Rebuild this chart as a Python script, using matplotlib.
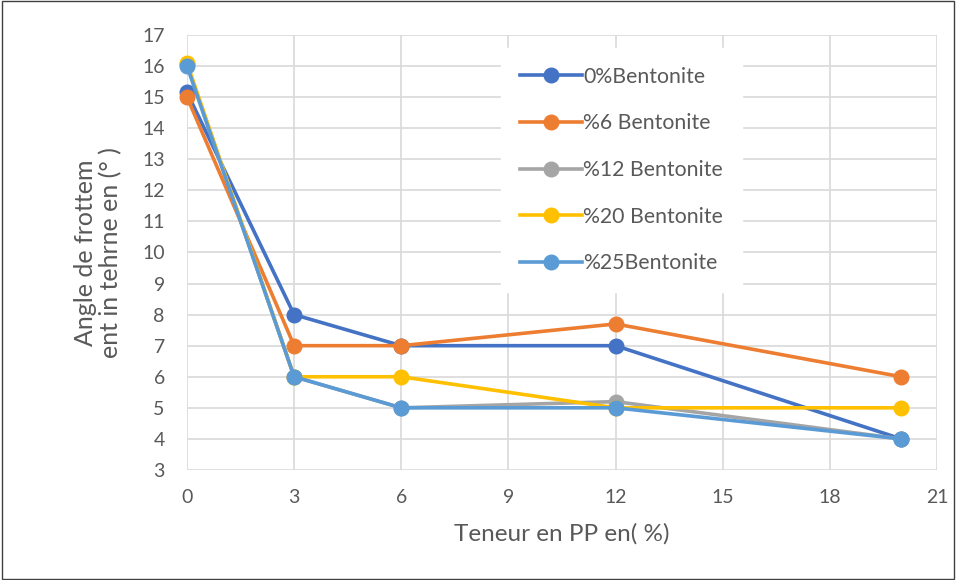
import matplotlib
matplotlib.use("Agg")
import matplotlib.pyplot as plt
from matplotlib.patches import Rectangle

teneur_pp = [0, 3, 6, 12, 20]
bent_0 = [15.15, 8, 7, 7, 4]
bent_6 = [15, 7, 7, 7.7, 6]
bent_12 = [16.05, 6, 5, 5.2, 4]
bent_20 = [16.1, 6, 6, 5, 5]
bent_25 = [16, 6, 5, 5, 4]

series = [
    ("0%Bentonite", bent_0, "#4472C4"),
    ("%6 Bentonite", bent_6, "#ED7D31"),
    ("%12 Bentonite", bent_12, "#A5A5A5"),
    ("%20 Bentonite", bent_20, "#FFC000"),
    ("%25Bentonite", bent_25, "#5B9BD5"),
]

plt.rcParams["font.family"] = ["Lato", "DejaVu Sans"]
txt = "#595959"

fig = plt.figure(figsize=(9.56, 5.8), dpi=100)
ax = fig.add_axes([0.1956, 0.1897, 0.7845, 0.75])

for label, vals, col in series:
    ax.plot(teneur_pp, vals, "-o", color=col, lw=2.6, ms=10.5, label=label,
            clip_on=False, zorder=3)

ax.set_xlim(0, 21)
ax.set_ylim(3, 17)
ax.set_xticks(range(0, 22, 3))
ax.set_yticks(range(3, 18))
ax.grid(True, color="#d9d9d9", lw=1.2, zorder=0)
ax.set_axisbelow(True)
for s in ax.spines.values():
    s.set_visible(False)
ax.tick_params(length=0, labelsize=14, colors=txt)
ax.tick_params(axis="x", pad=14)
ax.tick_params(axis="y", pad=16)

ax.set_xlabel("Teneur en PP en( %)", fontsize=17.5, color=txt, labelpad=12)
ax.set_ylabel("Angle de frottem\nent in tehrne en (° )", fontsize=18, color=txt,
              labelpad=14, linespacing=1.15)

leg = ax.legend(loc="upper left", bbox_to_anchor=(0.405, 0.995), frameon=True,
                fontsize=15.3, labelspacing=1.25, handlelength=2.9,
                handletextpad=0.05, borderpad=0.9, labelcolor=txt)
leg.get_frame().set_facecolor("white")
leg.get_frame().set_edgecolor("white")
leg.get_frame().set_alpha(1)
leg.set_zorder(5)

fig.patches.append(Rectangle((0.002, 0.002), 0.996, 0.996, transform=fig.transFigure,
                             fill=False, edgecolor="#404040", lw=1))

fig.savefig("out.png", dpi=100)
plt.close(fig)
